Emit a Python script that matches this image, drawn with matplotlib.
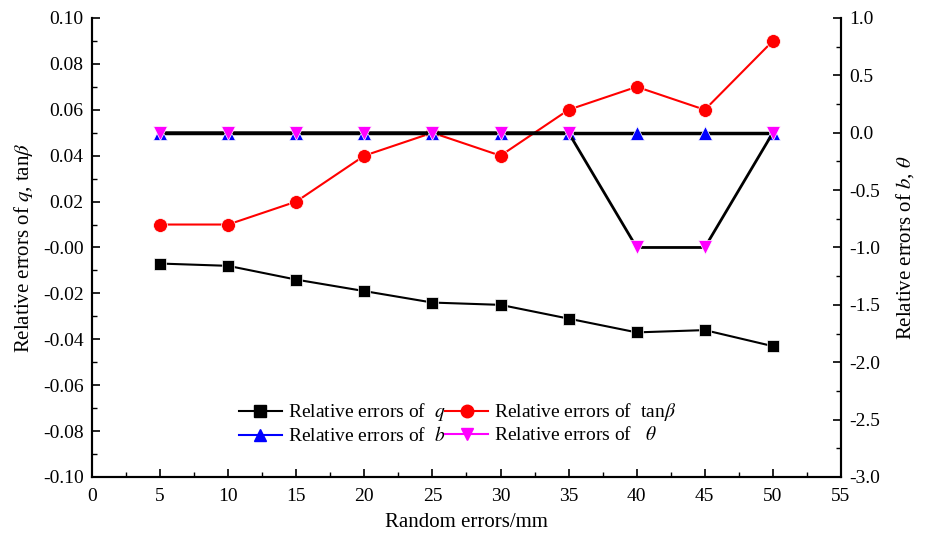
import numpy as np
import matplotlib.pyplot as plt
from matplotlib.lines import Line2D
from matplotlib.ticker import MultipleLocator, FormatStrFormatter

plt.rcParams['font.family'] = ['Liberation Serif', 'DejaVu Serif']
plt.rcParams['mathtext.fontset'] = 'stix'
plt.rcParams['axes.unicode_minus'] = False

# random error levels (mm)
x = [5, 10, 15, 20, 25, 30, 35, 40, 45, 50]

# left axis series
err_q = [-0.007, -0.008, -0.014, -0.019, -0.024, -0.025, -0.031, -0.037, -0.036, -0.043]
err_tanb = [0.01, 0.01, 0.02, 0.04, 0.05, 0.04, 0.06, 0.07, 0.06, 0.09]

# right axis series
err_b = [0, 0, 0, 0, 0, 0, 0, 0, 0, 0]
err_theta = [0, 0, 0, 0, 0, 0, 0, -1, -1, 0]

fig = plt.figure(figsize=(9.27, 5.4), dpi=100)
ax = fig.add_axes([0.0992, 0.1167, 0.808, 0.85])
ax2 = ax.twinx()

ms = 9
ax.plot(x, err_q, color='black', lw=1.5, marker='s', ms=8, mfc='black', mec='white', mew=0.5, zorder=3)
ax.plot(x, err_tanb, color='red', lw=1.5, marker='o', ms=ms + 1, mfc='red', mec='white', mew=0.5, zorder=3)
ax2.plot(x, err_b, color='black', lw=2.5, marker='^', ms=ms + 1, mfc='blue', mec='white', mew=0.5, zorder=3)
ax2.plot(x, err_theta, color='black', lw=2, marker='v', ms=ms + 1, mfc='magenta', mec='white', mew=0.5, zorder=4)

ax.set_xlim(0, 55)
ax.set_ylim(-0.10, 0.10)
ax2.set_ylim(-3.0, 1.0)

ax.xaxis.set_major_locator(MultipleLocator(5))
ax.xaxis.set_minor_locator(MultipleLocator(2.5))
ax.yaxis.set_major_locator(MultipleLocator(0.02))
ax.yaxis.set_minor_locator(MultipleLocator(0.01))
ax.yaxis.set_major_formatter(FormatStrFormatter('%.2f'))
ax2.yaxis.set_major_locator(MultipleLocator(0.5))
ax2.yaxis.set_minor_locator(MultipleLocator(0.25))
ax2.yaxis.set_major_formatter(FormatStrFormatter('%.1f'))

for a in (ax, ax2):
    a.spines['top'].set_visible(False)
    for s in a.spines.values():
        s.set_linewidth(1.5)
    a.tick_params(which='major', direction='in', length=6, width=1.2, labelsize=14, pad=6)
    a.tick_params(which='minor', direction='in', length=3.5, width=1.0)
ax.tick_params(axis='x', pad=8)

ax.set_xlabel('Random errors/mm', fontsize=15, labelpad=6)
ax.set_ylabel(r'Relative errors of $q$, tan$\beta$', fontsize=15, labelpad=6)
ax2.set_ylabel(r'Relative errors of $b$, $\theta$', fontsize=15, labelpad=10)

handles = [
    Line2D([], [], color='black', lw=1.5, marker='s', ms=8),
    Line2D([], [], color='blue', lw=1.5, marker='^', ms=ms),
    Line2D([], [], color='red', lw=1.5, marker='o', ms=ms),
    Line2D([], [], color='magenta', lw=1.5, marker='v', ms=ms),
]
labels = [r'Relative errors of  $q$', r'Relative errors of  $b$',
          r'Relative errors of  tan$\beta$', r'Relative errors of   $\theta$']
ax.legend(handles, labels, ncol=2, loc='upper left', bbox_to_anchor=(0.186, 0.1815),
          frameon=False, fontsize=14, handlelength=2.2, handletextpad=0.3,
          columnspacing=0.0, labelspacing=0.15, borderaxespad=0)

fig.savefig('out.png', dpi=100)
